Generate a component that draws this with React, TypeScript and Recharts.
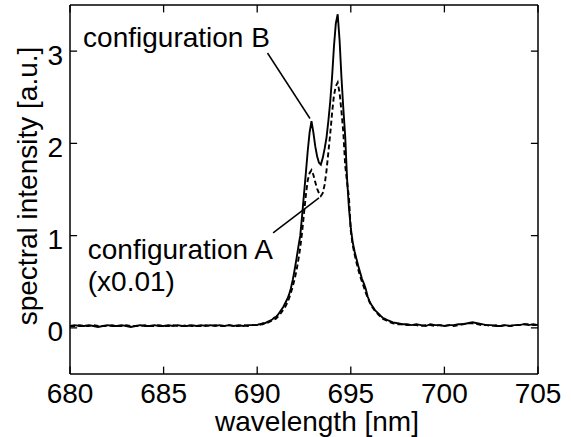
import React from "react";
import {
  LineChart,
  Line,
  XAxis,
  YAxis,
  ReferenceLine,
  ReferenceDot,
  Label,
} from "recharts";

// wavelength grid [nm]
const wavelength = [
  680, 680.25, 680.5, 680.75, 681, 681.25, 681.5, 681.75, 682, 682.25,
  682.5, 682.75, 683, 683.25, 683.5, 683.75, 684, 684.25, 684.5, 684.75,
  685, 685.25, 685.5, 685.75, 686, 686.25, 686.5, 686.75, 687, 687.25,
  687.5, 687.75, 688, 688.25, 688.5, 688.75, 689, 689.25, 689.5, 689.75,
  690, 690.1, 690.2, 690.3, 690.4, 690.5, 690.6, 690.7, 690.8, 690.9,
  691, 691.1, 691.2, 691.3, 691.4, 691.5, 691.6, 691.7, 691.8, 691.9,
  692, 692.1, 692.2, 692.3, 692.4, 692.5, 692.6, 692.7, 692.8, 692.9,
  693, 693.1, 693.2, 693.3, 693.4, 693.5, 693.6, 693.7, 693.8, 693.9,
  694, 694.1, 694.2, 694.3, 694.4, 694.5, 694.6, 694.7, 694.8, 694.9,
  695, 695.1, 695.2, 695.3, 695.4, 695.5, 695.6, 695.7, 695.8, 695.9,
  696, 696.1, 696.2, 696.3, 696.4, 696.5, 696.6, 696.7, 696.8, 696.9,
  697, 697.25, 697.5, 697.75, 698, 698.25, 698.5, 698.75, 699, 699.25,
  699.5, 699.75, 700, 700.25, 700.5, 700.75, 701, 701.25, 701.5, 701.75,
  702, 702.25, 702.5, 702.75, 703, 703.25, 703.5, 703.75, 704, 704.25,
  704.5, 704.75, 705,
];

// configuration B (solid)
const configB = [
  0.02, 0.03, 0.02, 0.02, 0.03, 0.02, 0.01, 0.02, 0.03, 0.02,
  0.02, 0.03, 0.02, 0.01, 0.02, 0.03, 0.02, 0.02, 0.03, 0.02,
  0.02, 0.03, 0.02, 0.03, 0.02, 0.02, 0.03, 0.02, 0.03, 0.02,
  0.03, 0.02, 0.03, 0.02, 0.03, 0.02, 0.03, 0.02, 0.03, 0.03,
  0.03, 0.04, 0.04, 0.05, 0.05, 0.06, 0.07, 0.08, 0.09, 0.11,
  0.12, 0.14, 0.17, 0.2, 0.23, 0.27, 0.31, 0.36, 0.43, 0.52,
  0.63, 0.75, 0.88, 1.0, 1.22, 1.45, 1.68, 1.92, 2.12, 2.24,
  2.12, 1.97, 1.86, 1.79, 1.77, 1.84, 1.94, 2.06, 2.24, 2.45,
  2.72, 3.05, 3.3, 3.4, 3.12, 2.72, 2.38, 2.08, 1.62, 1.3,
  1.08, 0.93, 0.83, 0.75, 0.67, 0.6, 0.53, 0.48, 0.42, 0.34,
  0.29, 0.25, 0.22, 0.19, 0.17, 0.15, 0.13, 0.11, 0.1, 0.09,
  0.08, 0.06, 0.05, 0.04, 0.04, 0.03, 0.04, 0.03, 0.02, 0.04,
  0.03, 0.03, 0.02, 0.03, 0.03, 0.04, 0.04, 0.05, 0.06, 0.05,
  0.04, 0.03, 0.03, 0.02, 0.02, 0.03, 0.02, 0.03, 0.03, 0.04,
  0.03, 0.04, 0.03,
];

// configuration A x0.01 (dashed)
const configA = [
  0.02, 0.02, 0.03, 0.02, 0.02, 0.03, 0.02, 0.02, 0.02, 0.03,
  0.02, 0.02, 0.03, 0.02, 0.02, 0.02, 0.03, 0.02, 0.02, 0.03,
  0.02, 0.02, 0.03, 0.02, 0.02, 0.03, 0.02, 0.02, 0.02, 0.03,
  0.02, 0.03, 0.02, 0.02, 0.03, 0.02, 0.02, 0.03, 0.02, 0.03,
  0.03, 0.03, 0.04, 0.04, 0.05, 0.05, 0.06, 0.07, 0.08, 0.09,
  0.1, 0.12, 0.14, 0.17, 0.2, 0.23, 0.27, 0.32, 0.38, 0.45,
  0.53, 0.62, 0.74, 0.87, 1.04, 1.24, 1.44, 1.6, 1.68, 1.71,
  1.66, 1.58, 1.51, 1.46, 1.43, 1.46, 1.55, 1.7, 1.9, 2.1,
  2.33, 2.52, 2.62, 2.66, 2.55, 2.35, 2.12, 1.76, 1.58, 1.42,
  1.05, 0.9, 0.8, 0.71, 0.63, 0.56, 0.5, 0.44, 0.38, 0.33,
  0.28, 0.24, 0.21, 0.18, 0.16, 0.14, 0.12, 0.1, 0.09, 0.08,
  0.07, 0.05, 0.04, 0.04, 0.03, 0.03, 0.03, 0.02, 0.03, 0.03,
  0.02, 0.03, 0.02, 0.03, 0.02, 0.03, 0.04, 0.05, 0.05, 0.04,
  0.03, 0.03, 0.02, 0.03, 0.02, 0.03, 0.02, 0.03, 0.03, 0.04,
  0.04, 0.03, 0.03,
];

const xTicks = [680, 685, 690, 695, 700, 705];
const yTicks = [0, 1, 2, 3];
const X_DOMAIN = [680, 705];
const Y_DOMAIN = [-0.5, 3.5];
// inward tick length in data units (~7px)
const X_TICK_LEN = 0.08;
const Y_TICK_LEN = 0.38;

// annotation text anchors and pointer lines (data coords)
const annotations = [
  { x: 680.7, y: 3.05, lines: ["configuration B"] },
  { x: 680.95, y: 0.75, lines: ["configuration A", "(x0.01)"] },
];
const pointers = [
  [{ x: 690.55, y: 2.98 }, { x: 692.82, y: 2.27 }],
  [{ x: 690.85, y: 1.03 }, { x: 693.3, y: 1.41 }],
];

const data = wavelength.map((w, i) => ({ w, b: configB[i], a: configA[i] }));

const FONT = "'Liberation Sans', Arial, Helvetica, sans-serif";

const AnnotationText = ({ viewBox, lines }: any) => {
  const x = viewBox?.x ?? 0;
  const y = viewBox?.y ?? 0;
  return (
    <text x={x} y={y} fontFamily={FONT} fontSize={28} fill="#000">
      {lines.map((l: string, i: number) => (
        <tspan key={i} x={x} dy={i === 0 ? 0 : 32}>
          {l}
        </tspan>
      ))}
    </text>
  );
};

const YTick = ({ x, y, payload }: any) => (
  <text
    x={x}
    y={y + 4}
    textAnchor="end"
    dominantBaseline="central"
    fontFamily={FONT}
    fontSize={28}
    fill="#000"
  >
    {payload.value}
  </text>
);

const App = () => {
  const tickStyle = { fontFamily: FONT, fontSize: 28, fill: "#000" };
  const [x0, x1] = X_DOMAIN;
  const [y0, y1] = Y_DOMAIN;
  return (
    <div style={{ position: "absolute", left: 0, top: 0, background: "#fff" }}>
      <LineChart
        width={571}
        height={437}
        data={data}
        margin={{ top: 5, right: 33, bottom: 8, left: 8 }}
      >
        <XAxis
          dataKey="w"
          type="number"
          domain={X_DOMAIN}
          ticks={xTicks}
          height={55}
          tick={tickStyle}
          tickLine={false}
          tickMargin={3}
          stroke="#000"
          strokeWidth={1.5}
        >
          <Label
            content={() => (
              <text
                x={317}
                y={431}
                textAnchor="middle"
                fontFamily={FONT}
                fontSize={28}
                fill="#000"
              >
                wavelength [nm]
              </text>
            )}
          />
        </XAxis>
        <YAxis
          type="number"
          domain={Y_DOMAIN}
          ticks={yTicks}
          width={62}
          tick={<YTick />}
          tickLine={false}
          tickMargin={1}
          stroke="#000"
          strokeWidth={1.5}
        >
          <Label
            content={() => (
              <text
                x={37}
                y={186}
                transform="rotate(-90, 37, 186)"
                textAnchor="middle"
                fontFamily={FONT}
                fontSize={28}
                fill="#000"
              >
                spectral intensity [a.u.]
              </text>
            )}
          />
        </YAxis>

        {/* frame: top and right edges */}
        <ReferenceLine y={y1} stroke="#000" strokeWidth={1.5} />
        <ReferenceLine x={x1} stroke="#000" strokeWidth={1.5} />

        {/* inward ticks on all four sides */}
        {xTicks.map((t) => (
          <ReferenceLine
            key={`xb-${t}`}
            segment={[{ x: t, y: y0 }, { x: t, y: y0 + X_TICK_LEN }]}
            stroke="#000"
            strokeWidth={1.3}
          />
        ))}
        {xTicks.map((t) => (
          <ReferenceLine
            key={`xt-${t}`}
            segment={[{ x: t, y: y1 }, { x: t, y: y1 - X_TICK_LEN }]}
            stroke="#000"
            strokeWidth={1.3}
          />
        ))}
        {yTicks.map((t) => (
          <ReferenceLine
            key={`yl-${t}`}
            segment={[{ x: x0, y: t }, { x: x0 + Y_TICK_LEN, y: t }]}
            stroke="#000"
            strokeWidth={1.3}
          />
        ))}
        {yTicks.map((t) => (
          <ReferenceLine
            key={`yr-${t}`}
            segment={[{ x: x1, y: t }, { x: x1 - Y_TICK_LEN, y: t }]}
            stroke="#000"
            strokeWidth={1.3}
          />
        ))}

        <Line
          type="linear"
          dataKey="a"
          stroke="#000"
          strokeWidth={1.9}
          strokeDasharray="5 3"
          dot={false}
          isAnimationActive={false}
        />
        <Line
          type="linear"
          dataKey="b"
          stroke="#000"
          strokeWidth={1.9}
          dot={false}
          isAnimationActive={false}
        />
        {pointers.map((seg, i) => (
          <ReferenceLine
            key={`p-${i}`}
            segment={seg}
            stroke="#000"
            strokeWidth={1.5}
          />
        ))}
        {annotations.map((a, i) => (
          <ReferenceDot
            key={`a-${i}`}
            x={a.x}
            y={a.y}
            r={0}
            fill="none"
            stroke="none"
            label={<AnnotationText lines={a.lines} />}
          />
        ))}
      </LineChart>
    </div>
  );
};

export default App;
